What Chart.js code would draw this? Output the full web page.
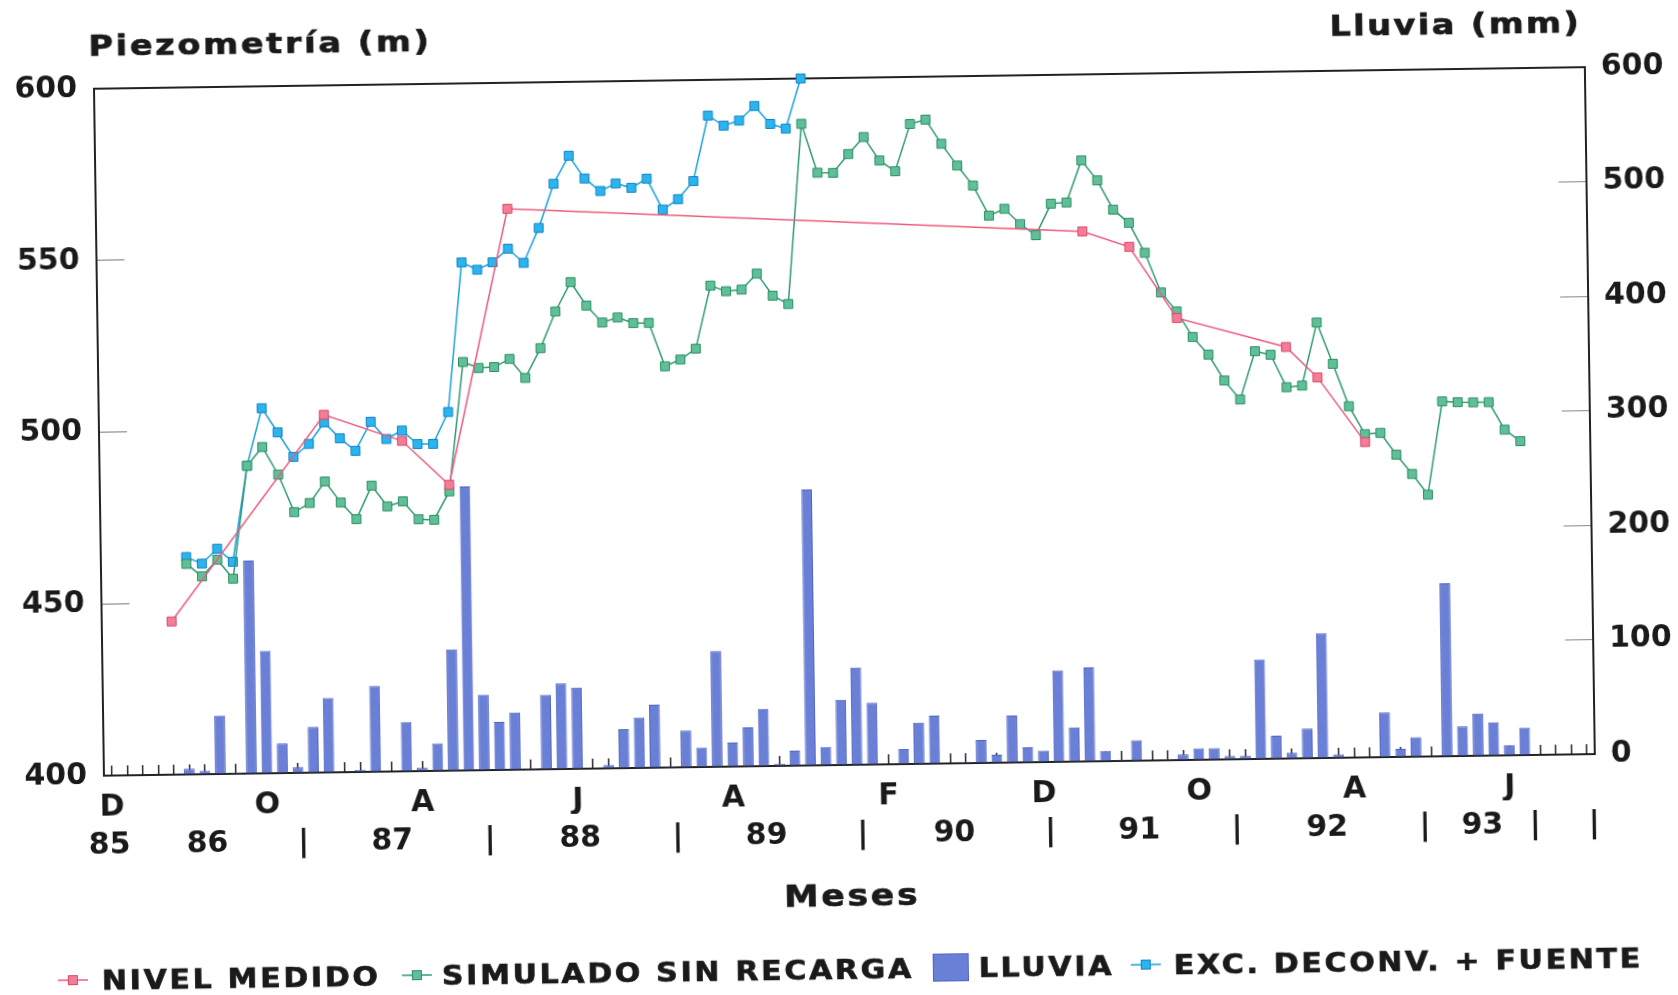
<!DOCTYPE html>
<html>
<head>
<meta charset="utf-8">
<script src="https://cdn.jsdelivr.net/npm/chart.js@4.4.1/dist/chart.umd.min.js"></script>
<style>
html,body{margin:0;padding:0;background:#fff;overflow:hidden;width:1678px;height:995px;}
#wrap{position:absolute;left:0;top:0;width:1678px;height:995px;transform:rotate(-0.83deg);transform-origin:839px 497.5px;}
canvas{display:block;}
</style>
</head>
<body>
<div id="wrap"><canvas id="c" width="1678" height="995"></canvas></div>
<script>
// ---------- categories (monthly, Dec 1985 .. Nov 1993) ----------
const monthInitials = ['E','F','M','A','M','J','J','A','S','O','N','D'];
const months = [];
for (let i = 0; i < 96; i++) {
  const m = (11 + i) % 12;
  const y = 1985 + Math.floor((11 + i) / 12);
  months.push(monthInitials[m] + '-' + y);
}

// ---------- tick labels ----------
const monthTickLabels = {0:'D', 10:'O', 20:'A', 30:'J', 40:'A', 50:'F', 60:'D', 70:'O', 80:'A', 90:'J'};
const yearTickValues = [-0.2, 6.1, 12.3, 18.0, 24.3, 30.1, 36.4, 42.1, 48.3, 54.2, 60.4, 66.1, 72.4, 78.2, 84.5, 88.2, 91.6, 95.4];
const yearTickLabels = ['85','86','|','87','|','88','|','89','|','90','|','91','|','92','|','93','|','|'];

// ---------- series ----------
// Lluvia (mm), one value per month
const lluvia = [0,0,0,0,0,5,3,51,1,186,
                107,26,5,40,65,0,2,75,0,43,
                3,24,106,248,66,42,50,1,65,75,
                71,0,3,34,44,55,1,32,17,101,
                21,34,50,2,13,241,16,57,85,54,
                0,13,36,42,0,1,20,7,41,13,
                10,80,30,82,9,1,18,0,1,5,
                10,10,3,3,87,20,5,26,109,3,
                0,0,39,7,17,0,151,26,37,29,
                9,24,0,0,0,0];

// Nivel medido (m): measured only in some months
const nivelMonths = [4, 14, 19, 22, 26, 63, 66, 69, 76, 78, 81];
const nivelValues = [444.6, 504.1, 496.2, 483.2, 563.3, 554.3, 549.6, 528.7, 519.8, 510.8, 491.8];

// Simulado sin recarga (m), months 5..91
const simuladoStart = 5;
const simulado = [461.3,457.6,462.4,456.8,489.6,495.0,486.9,475.9,478.5,484.7,
                  478.5,473.6,483.3,477.2,478.6,473.3,473.1,481.3,518.9,517.1,
                  517.3,519.6,514.0,522.6,533.2,541.7,534.8,529.8,531.2,529.5,
                  529.5,516.8,518.7,521.8,540.1,538.4,538.8,543.4,536.9,534.4,
                  586.8,572.5,572.4,577.8,582.7,575.8,572.6,586.3,587.5,580.4,
                  574.0,568.1,559.3,561.2,556.7,553.4,562.5,562.8,575.0,569.1,
                  560.5,556.6,547.8,536.2,530.6,523.1,517.9,510.3,504.7,518.7,
                  517.6,508.1,508.5,526.8,514.7,502.3,494.1,494.4,488.0,482.3,
                  476.2,503.3,503.0,502.9,502.9,494.8,491.4];

// Exc. deconv. + fuente (m), months 5..45
const excStart = 5;
const exc = [463.3,461.3,465.6,461.7,489.6,506.3,499.2,492.0,495.7,501.9,
             497.2,493.5,501.9,496.8,499.2,495.2,495.2,504.4,547.9,545.7,
             547.8,551.7,547.5,557.6,570.4,578.5,571.8,568.1,570.2,568.9,
             571.5,562.4,565.4,570.6,589.6,586.6,588.0,592.2,586.9,585.5,
             600.0];

// ---------- build full-length arrays ----------
function padSeries(start, vals) {
  const a = new Array(months.length).fill(null);
  vals.forEach((v, i) => { a[start + i] = v; });
  return a;
}
const nivelData = new Array(months.length).fill(null);
nivelMonths.forEach((m, i) => { nivelData[m] = nivelValues[i]; });
const simuladoData = padSeries(simuladoStart, simulado);
const excData = padSeries(excStart, exc);

// ---------- styles ----------
const FONT = "'DejaVu Sans', 'Liberation Sans', sans-serif";
const TXT = '#1a1a1a';
const COL = {
  pink:  {line:'#ee5a7c', fill:'#f37c97', edge:'#d9476a'},
  green: {line:'#2f9a74', fill:'#5fc098', edge:'#2d8c66'},
  blue:  {line:'#19a2e0', fill:'#2cb4ee', edge:'#1284c6'},
  bar:   {fill:'#6a7fd6', edge:'#5065c4'}
};

const lineDs = (label, data, c, order) => ({
  type:'line', label, data, yAxisID:'yL', xAxisID:'x',
  borderColor:c.line, backgroundColor:c.fill,
  borderWidth:1.5, pointStyle:'rect', pointRadius:6.3,
  pointBackgroundColor:c.fill, pointBorderColor:c.edge, pointBorderWidth:1,
  spanGaps:true, tension:0, order, clip:false
});

function setLS(ctx, v) { try { ctx.letterSpacing = v; } catch (e) {} }

// draws text widened horizontally by factor sx
function wideText(ctx, text, x, y, align, sx, ls) {
  ctx.save();
  setLS(ctx, ls + 'px');
  ctx.textAlign = 'left';
  const w = ctx.measureText(text).width * sx;
  let x0 = x;
  if (align === 'center') x0 = x - w / 2;
  else if (align === 'right') x0 = x - w;
  ctx.translate(x0, y);
  ctx.scale(sx, 1);
  ctx.strokeStyle = ctx.fillStyle;
  ctx.lineWidth = 0.7;
  ctx.fillText(text, 0, 0);
  ctx.strokeText(text, 0, 0);
  ctx.restore();
}

const textPlugin = {
  id:'texts',
  afterDraw(chart) {
    const ctx = chart.ctx;
    ctx.save();
    ctx.fillStyle = TXT;
    ctx.textBaseline = 'alphabetic';
    // axis titles
    ctx.font = `bold 28px ${FONT}`;
    wideText(ctx, 'Piezometría (m)', 95, 45, 'left', 1.2, 2.2);
    wideText(ctx, 'Lluvia (mm)', 1588, 43, 'right', 1.2, 2);
    // x axis title
    ctx.font = `bold 30px ${FONT}`;
    const ca = chart.chartArea;
    wideText(ctx, 'Meses', (ca.left + ca.right) / 2 + 1, 906, 'center', 1.15, 2.4);
    // legend
    ctx.font = `bold 26px ${FONT}`;
    const ly = 969;
    const ds = chart.data.datasets;
    const items = [
      {d:ds[0], kind:'line', c:COL.pink,  mx:66,   tx:95},
      {d:ds[1], kind:'line', c:COL.green, mx:410,  tx:435},
      {d:ds[2], kind:'box',  c:COL.bar,   mx:944,  tx:972},
      {d:ds[3], kind:'line', c:COL.blue,  mx:1139, tx:1167}
    ];
    items.forEach(it => {
      if (it.kind === 'line') {
        ctx.strokeStyle = it.c.line; ctx.lineWidth = 1.5;
        ctx.beginPath(); ctx.moveTo(it.mx - 15, ly); ctx.lineTo(it.mx + 15, ly); ctx.stroke();
        ctx.fillStyle = it.c.fill; ctx.fillRect(it.mx - 4.5, ly - 4.5, 9, 9);
        ctx.strokeStyle = it.c.edge; ctx.lineWidth = 1; ctx.strokeRect(it.mx - 4.5, ly - 4.5, 9, 9);
      } else {
        ctx.fillStyle = it.c.fill; ctx.fillRect(it.mx - 17.5, ly - 13.5, 35, 27);
        ctx.strokeStyle = it.c.edge; ctx.lineWidth = 1; ctx.strokeRect(it.mx - 17.5, ly - 13.5, 35, 27);
      }
      ctx.fillStyle = TXT;
      wideText(ctx, it.d.label, it.tx, ly + 9.5, 'left', 1.15, 2.4);
    });
    ctx.restore();
  }
};

const tickFont = {family:FONT, size:30, weight:'bold'};

new Chart(document.getElementById('c'), {
  type:'bar',
  data:{
    labels: months,
    datasets:[
      lineDs('NIVEL MEDIDO', nivelData, COL.pink, 1),
      lineDs('SIMULADO SIN RECARGA', simuladoData, COL.green, 2),
      {type:'bar', label:'LLUVIA', data:lluvia, yAxisID:'yR', xAxisID:'x',
       backgroundColor:COL.bar.fill, borderColor:COL.bar.edge, borderWidth:1,
       barPercentage:0.69, categoryPercentage:1, order:10},
      lineDs('EXC. DECONV. + FUENTE', excData, COL.blue, 3)
    ]
  },
  options:{
    responsive:false, animation:false, events:[],
    layout:{padding:{top:78, left:0, right:0, bottom:140}},
    plugins:{legend:{display:false}, tooltip:{enabled:false}, title:{display:false}},
    scales:{
      x:{
        type:'category', position:'bottom', weight:0, offset:true,
        grid:{display:true, offset:false, drawOnChartArea:false, drawTicks:true, tickLength:-10, color:'#2a2a2a', lineWidth:1.5},
        border:{display:true, color:'#222', width:2},
        ticks:{autoSkip:false, maxRotation:0, minRotation:0, padding:24, color:TXT, font:tickFont,
               callback:(v, i) => (monthTickLabels[i] !== undefined ? monthTickLabels[i] : '')},
        afterFit:s => { s.height = 45; }
      },
      xYear:{
        type:'linear', position:'bottom', weight:1, min:-0.5, max:95.5, offset:false, bounds:'data',
        grid:{display:false, drawTicks:false, offset:false}, border:{display:false},
        afterBuildTicks:s => { s.ticks = yearTickValues.map(v => ({value:v})); },
        ticks:{autoSkip:false, maxRotation:0, minRotation:0, padding:7, color:TXT, font:tickFont,
               callback:(v, i) => yearTickLabels[i]},
        afterFit:s => { s.height = 45; s.paddingLeft = 0; s.paddingRight = 0; }
      },
      xTop:{
        type:'category', position:'top', display:true, offset:true,
        grid:{display:false, drawTicks:false}, ticks:{display:false},
        border:{display:true, color:'#222', width:2},
        afterFit:s => { s.height = 0; }
      },
      yL:{
        type:'linear', position:'left', min:400, max:600,
        grid:{display:true, drawOnChartArea:false, drawTicks:true, tickLength:-28, color:'#777', lineWidth:1},
        border:{display:true, color:'#222', width:2},
        ticks:{stepSize:50, padding:45, color:TXT, font:tickFont},
        afterFit:s => { s.width = 100; }
      },
      yR:{
        type:'linear', position:'right', min:0, max:600,
        grid:{display:true, drawOnChartArea:false, drawTicks:true, tickLength:-28, color:'#888', lineWidth:1},
        border:{display:true, color:'#222', width:2},
        ticks:{stepSize:100, padding:44, color:TXT, font:tickFont},
        afterFit:s => { s.width = 87; }
      }
    }
  },
  plugins:[textPlugin]
});
</script>
</body>
</html>
